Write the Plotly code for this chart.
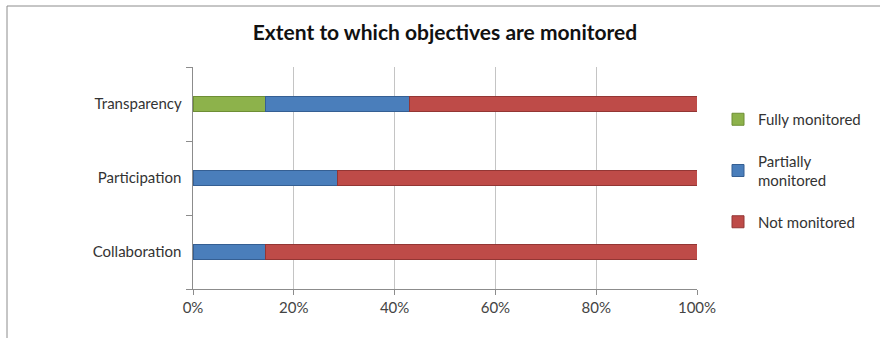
import plotly.graph_objects as go

# Share of initiatives per objective, by how fully the objective is monitored (%)
categories = ["Collaboration", "Participation", "Transparency"]
fully_monitored = [0.0, 0.0, 14.3]
partially_monitored = [14.3, 28.6, 28.6]
not_monitored = [85.7, 71.4, 57.1]
x_ticks = [0, 20, 40, 60, 80, 100]
x_tick_labels = ["0%", "20%", "40%", "60%", "80%", "100%"]

W, H = 880, 338
L, R, T, B = 193, 183, 67, 49

series = [
    ("Fully monitored", fully_monitored, "#8DB24B", "#6E8E35"),
    ("Partially<br>monitored", partially_monitored, "#4A7EBB", "#355F93"),
    ("Not monitored", not_monitored, "#BE4B48", "#933634"),
]

fig = go.Figure()
for i, (name, vals, color, edge) in enumerate(series):
    fig.add_trace(go.Bar(
        y=categories, x=vals, name=name, orientation="h",
        marker=dict(color=color, line=dict(color=edge, width=1)),
        legendgroup=f"g{i}",
        hovertemplate="%{y}: %{x}%<extra></extra>",
    ))

font = "Lato, Open Sans, sans-serif"
pw, ph = W - L - R, H - T - B


def px_x(x):
    return (x - L) / pw


def px_y(y):
    return (H - B - y) / ph


fig.update_layout(
    width=W, height=H,
    margin=dict(l=L, r=R, t=T, b=B),
    paper_bgcolor="white", plot_bgcolor="white",
    barmode="stack", bargap=0.81,
    font=dict(family=font, size=15, color="#333"),
    title=dict(text="<b>Extent to which objectives are monitored</b>",
               x=0.5, xref="paper", xanchor="center",
               y=1 - 33 / H, yanchor="middle",
               font=dict(family=font, size=21, color="#111")),
    xaxis=dict(range=[0, 100], tickvals=x_ticks, ticktext=x_tick_labels,
               showgrid=True, gridcolor="#C4C4C4", gridwidth=1,
               showline=True, linecolor="#8C8C8C", linewidth=1,
               ticks="outside", ticklen=5, tickcolor="#8C8C8C",
               tickfont=dict(size=15, color="#444"),
               zeroline=False, fixedrange=True),
    yaxis=dict(categoryorder="array", categoryarray=categories,
               showline=True, linecolor="#8C8C8C", linewidth=1,
               ticks="outside", ticklen=6, tickcolor="#8C8C8C",
               tickson="boundaries", showgrid=False, ticksuffix="  ",
               tickfont=dict(size=15, color="#333"),
               zeroline=False, fixedrange=True),
    legend=dict(x=px_x(718), xanchor="left", y=px_y(103), yanchor="top",
                traceorder="grouped", tracegroupgap=19,
                font=dict(family=font, size=15, color="#333"),
                bgcolor="rgba(0,0,0,0)", itemwidth=30),
    showlegend=True,
)

# Chart frame edges along the top and left of the figure
fig.add_shape(type="line", xref="paper", yref="paper",
              x0=px_x(7), x1=px_x(W + 5), y0=px_y(6), y1=px_y(6),
              line=dict(color="#8C8C8C", width=1))
fig.add_shape(type="line", xref="paper", yref="paper",
              x0=px_x(7), x1=px_x(7), y0=px_y(6), y1=px_y(H + 5),
              line=dict(color="#8C8C8C", width=1))

fig.write_html("out.html")
